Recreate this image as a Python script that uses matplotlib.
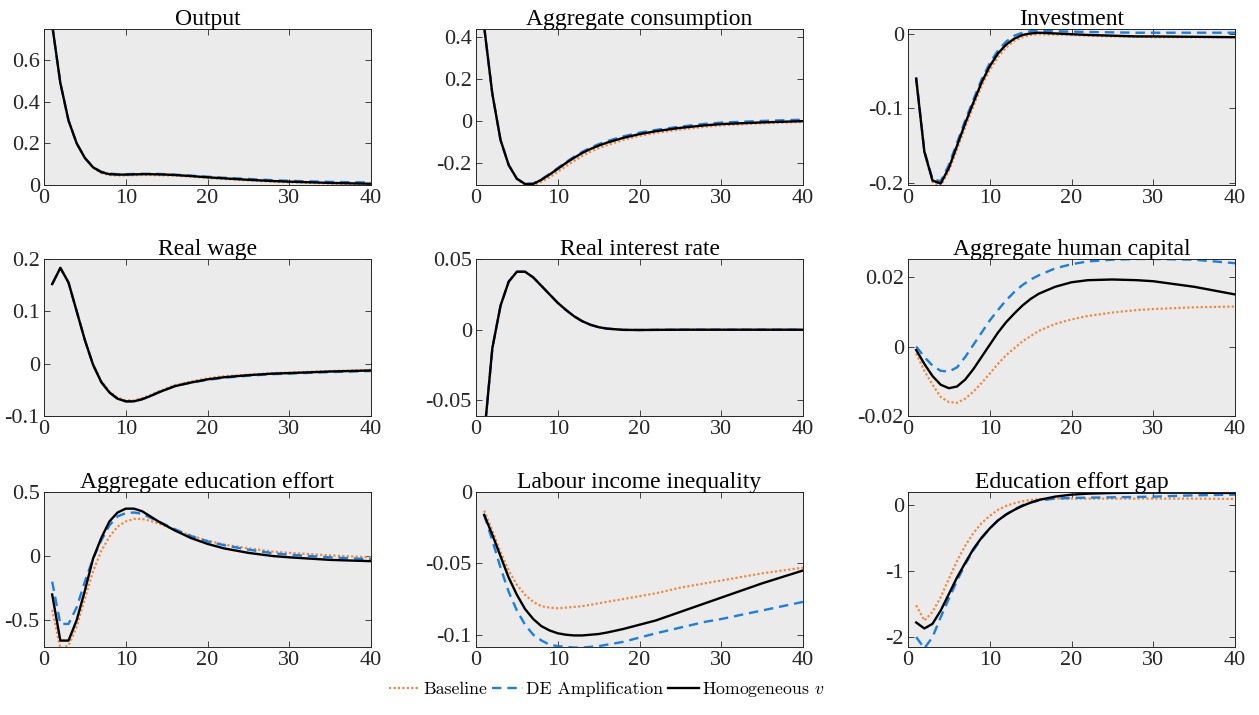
import matplotlib
matplotlib.use("Agg")
import matplotlib.pyplot as plt
from matplotlib.font_manager import FontProperties

plt.rcParams["font.family"] = ["Liberation Serif", "DejaVu Serif"]
plt.rcParams["mathtext.fontset"] = "cm"

# impulse-response horizons (quarters)
horizons = [1, 2, 3, 4, 5, 6, 7, 8, 9, 10, 11, 12, 13, 14, 15, 16,
            18, 20, 22, 25, 28, 30, 35, 40]

series_names = ["Baseline", "DE Amplification", "Homogeneous $v$"]
panel_titles = ["Output", "Aggregate consumption", "Investment",
                "Real wage", "Real interest rate", "Aggregate human capital",
                "Aggregate education effort", "Labour income inequality",
                "Education effort gap"]

output_base = [0.77, 0.49, 0.31, 0.20, 0.13, 0.083, 0.058, 0.048, 0.046, 0.046, 0.047, 0.048,
               0.048, 0.047, 0.046, 0.045, 0.040, 0.034, 0.029, 0.022, 0.016, 0.013, 0.007, 0.004]
output_de = [0.77, 0.49, 0.31, 0.20, 0.13, 0.086, 0.064, 0.055, 0.052, 0.052, 0.053, 0.054,
             0.054, 0.053, 0.052, 0.050, 0.045, 0.040, 0.035, 0.029, 0.023, 0.020, 0.015, 0.012]
output_hom = [0.77, 0.49, 0.31, 0.20, 0.13, 0.085, 0.062, 0.052, 0.050, 0.050, 0.051, 0.052,
              0.052, 0.051, 0.050, 0.048, 0.043, 0.037, 0.032, 0.025, 0.019, 0.016, 0.010, 0.006]

cons_base = [0.45, 0.13, -0.09, -0.21, -0.278, -0.304, -0.305, -0.29, -0.268, -0.242, -0.215, -0.19,
             -0.166, -0.146, -0.129, -0.115, -0.09, -0.07, -0.056, -0.04, -0.027, -0.02, -0.01, -0.004]
cons_de = [0.45, 0.13, -0.09, -0.21, -0.275, -0.30, -0.298, -0.278, -0.252, -0.224, -0.196, -0.17,
           -0.147, -0.127, -0.11, -0.096, -0.073, -0.055, -0.042, -0.026, -0.013, -0.007, 0.001, 0.007]
cons_hom = [0.45, 0.13, -0.09, -0.21, -0.275, -0.30, -0.30, -0.28, -0.255, -0.228, -0.20, -0.175,
            -0.152, -0.133, -0.117, -0.103, -0.08, -0.062, -0.048, -0.032, -0.02, -0.014, -0.006, 0.0]

inv_base = [-0.062, -0.160, -0.199, -0.204, -0.184, -0.155, -0.125, -0.097, -0.070, -0.048, -0.031, -0.018,
            -0.009, -0.004, -0.001, 0.0, -0.0005, -0.001, -0.002, -0.003, -0.0035, -0.004, -0.004, -0.004]
inv_de = [-0.058, -0.157, -0.195, -0.198, -0.176, -0.146, -0.116, -0.088, -0.061, -0.039, -0.022, -0.010,
          -0.002, 0.002, 0.004, 0.0045, 0.004, 0.0035, 0.003, 0.0025, 0.002, 0.002, 0.002, 0.002]
inv_hom = [-0.060, -0.158, -0.197, -0.201, -0.180, -0.150, -0.120, -0.092, -0.065, -0.043, -0.026, -0.014,
           -0.006, -0.001, 0.001, 0.002, 0.001, 0.0, -0.001, -0.002, -0.003, -0.003, -0.0035, -0.004]

wage_base = [0.152, 0.183, 0.155, 0.10, 0.045, -0.001, -0.033, -0.053, -0.065, -0.070, -0.070, -0.066,
             -0.060, -0.053, -0.047, -0.041, -0.034, -0.028, -0.024, -0.021, -0.018, -0.017, -0.014, -0.012]
wage_de = [0.152, 0.183, 0.155, 0.10, 0.045, -0.002, -0.035, -0.055, -0.067, -0.072, -0.072, -0.068,
           -0.062, -0.055, -0.049, -0.043, -0.036, -0.031, -0.027, -0.023, -0.020, -0.019, -0.016, -0.014]
wage_hom = [0.152, 0.183, 0.155, 0.10, 0.045, -0.002, -0.035, -0.055, -0.067, -0.072, -0.072, -0.068,
            -0.062, -0.055, -0.049, -0.043, -0.036, -0.030, -0.026, -0.022, -0.019, -0.018, -0.015, -0.013]

rate_base = [-0.075, -0.013, 0.017, 0.034, 0.041, 0.041, 0.037, 0.031, 0.025, 0.019, 0.014, 0.0095,
             0.006, 0.0035, 0.0018, 0.0008, -0.0001, -0.0002, -0.0001, 0.0, 0.0, 0.0, 0.0, 0.0]
rate_de = list(rate_base)
rate_hom = list(rate_base)

hc_base = [-0.002, -0.007, -0.011, -0.0145, -0.016, -0.0162, -0.015, -0.013, -0.0105, -0.0078, -0.005, -0.0025,
           -0.0005, 0.0015, 0.003, 0.0045, 0.0065, 0.0078, 0.0088, 0.0098, 0.0105, 0.0108, 0.0113, 0.0115]
hc_de = [0.0, -0.003, -0.0055, -0.007, -0.0072, -0.006, -0.003, 0.0005, 0.004, 0.0075, 0.0105, 0.0133,
         0.0157, 0.0177, 0.0193, 0.0205, 0.0225, 0.0237, 0.0245, 0.025, 0.0252, 0.0252, 0.025, 0.024]
hc_hom = [-0.001, -0.005, -0.0085, -0.011, -0.012, -0.0115, -0.0095, -0.0065, -0.003, 0.0005, 0.004, 0.007,
          0.0095, 0.0118, 0.0137, 0.0152, 0.0172, 0.0185, 0.0191, 0.0193, 0.0191, 0.0188, 0.0172, 0.0150]

effort_base = [-0.42, -0.72, -0.70, -0.55, -0.33, -0.12, 0.04, 0.15, 0.23, 0.27, 0.29, 0.29,
               0.275, 0.255, 0.23, 0.205, 0.16, 0.12, 0.09, 0.06, 0.035, 0.025, 0.005, -0.01]
effort_de = [-0.20, -0.53, -0.53, -0.40, -0.20, -0.02, 0.12, 0.24, 0.31, 0.335, 0.34, 0.33,
             0.30, 0.27, 0.24, 0.21, 0.155, 0.115, 0.085, 0.05, 0.022, 0.01, -0.01, -0.025]
effort_hom = [-0.30, -0.66, -0.66, -0.50, -0.27, -0.02, 0.14, 0.27, 0.34, 0.37, 0.37, 0.35,
              0.31, 0.27, 0.235, 0.20, 0.14, 0.095, 0.06, 0.025, 0.0, -0.01, -0.03, -0.04]

ineq_base = [-0.013, -0.027, -0.042, -0.055, -0.065, -0.072, -0.077, -0.080, -0.081, -0.0815, -0.081, -0.0805,
             -0.080, -0.079, -0.078, -0.077, -0.075, -0.073, -0.071, -0.067, -0.064, -0.062, -0.057, -0.053]
ineq_de = [-0.016, -0.034, -0.053, -0.070, -0.083, -0.093, -0.100, -0.104, -0.107, -0.108, -0.1085, -0.109,
           -0.109, -0.1085, -0.108, -0.107, -0.105, -0.102, -0.099, -0.095, -0.091, -0.089, -0.083, -0.077]
ineq_hom = [-0.016, -0.030, -0.045, -0.060, -0.072, -0.082, -0.089, -0.094, -0.097, -0.099, -0.100, -0.1005,
            -0.1005, -0.100, -0.0995, -0.0985, -0.096, -0.093, -0.090, -0.084, -0.078, -0.074, -0.064, -0.055]

gap_base = [-1.52, -1.75, -1.62, -1.40, -1.12, -0.85, -0.62, -0.43, -0.28, -0.17, -0.08, -0.02,
            0.02, 0.05, 0.07, 0.08, 0.09, 0.09, 0.09, 0.09, 0.09, 0.09, 0.09, 0.085]
gap_de = [-2.0, -2.17, -2.0, -1.70, -1.42, -1.15, -0.90, -0.69, -0.51, -0.36, -0.24, -0.15,
          -0.07, -0.01, 0.03, 0.06, 0.09, 0.10, 0.105, 0.11, 0.115, 0.12, 0.14, 0.15]
gap_hom = [-1.78, -1.87, -1.80, -1.60, -1.35, -1.10, -0.88, -0.67, -0.50, -0.36, -0.24, -0.15,
           -0.08, -0.02, 0.03, 0.07, 0.12, 0.15, 0.165, 0.175, 0.18, 0.18, 0.18, 0.175]

panel_series = [
    (output_base, output_de, output_hom),
    (cons_base, cons_de, cons_hom),
    (inv_base, inv_de, inv_hom),
    (wage_base, wage_de, wage_hom),
    (rate_base, rate_de, rate_hom),
    (hc_base, hc_de, hc_hom),
    (effort_base, effort_de, effort_hom),
    (ineq_base, ineq_de, ineq_hom),
    (gap_base, gap_de, gap_hom),
]

panel_ylims = [(0, 0.75), (-0.305, 0.44), (-0.203, 0.007),
               (-0.1, 0.2), (-0.061, 0.05), (-0.02, 0.0252),
               (-0.71, 0.5), (-0.1086, 0.0), (-2.15, 0.19)]
panel_yticks = [[0, 0.2, 0.4, 0.6], [-0.2, 0, 0.2, 0.4], [-0.2, -0.1, 0],
                [-0.1, 0, 0.1, 0.2], [-0.05, 0, 0.05], [-0.02, 0, 0.02],
                [-0.5, 0, 0.5], [-0.1, -0.05, 0], [-2, -1, 0]]
xticks = [0, 10, 20, 30, 40]

line_styles = [
    dict(color="#f08a3c", linestyle=(0, (1, 1)), linewidth=1.6),
    dict(color="#1a7fe2", linestyle=(0, (4, 2.5)), linewidth=1.7),
    dict(color="black", linestyle="-", linewidth=1.7),
]

axis_color = "#262626"


def fmt_tick(v):
    return f"{v:g}"


fig = plt.figure(figsize=(12.59, 7.15), dpi=100)

col_left = [44, 476, 908]
row_span = [(29, 185), (259, 416), (492, 647)]
W, H = 1259, 715

handles = []
for i in range(9):
    r, c = divmod(i, 3)
    top, bot = row_span[r]
    ax = fig.add_axes([col_left[c] / W, 1 - bot / H, 327 / W, (bot - top) / H])
    ax.set_facecolor("#ebebeb")
    for series, style, name in zip(panel_series[i], line_styles, series_names):
        ln, = ax.plot(horizons, series, label=name, **style)
        if i == 0:
            handles.append(ln)
    ax.set_xlim(0, 40)
    ax.set_ylim(*panel_ylims[i])
    ax.set_xticks(xticks)
    ax.set_xticklabels([fmt_tick(v) for v in xticks])
    ax.set_yticks(panel_yticks[i])
    ax.set_yticklabels([fmt_tick(v) for v in panel_yticks[i]])
    ax.tick_params(direction="in", length=4, width=0.6, top=True, right=True,
                   labelsize=16, colors=axis_color, pad=3)
    for sp in ax.spines.values():
        sp.set_color(axis_color)
        sp.set_linewidth(0.7)
    ax.set_title(panel_titles[i], fontsize=17, pad=3)

legend_font = FontProperties(family="cmr10", size=12.8)
fig.legend(handles, series_names, loc="center", bbox_to_anchor=(0.482, 0.035),
           ncol=3, frameon=False, prop=legend_font, handlelength=1.75,
           handletextpad=0.15, columnspacing=0.3)

fig.savefig("out.png", dpi=100)
